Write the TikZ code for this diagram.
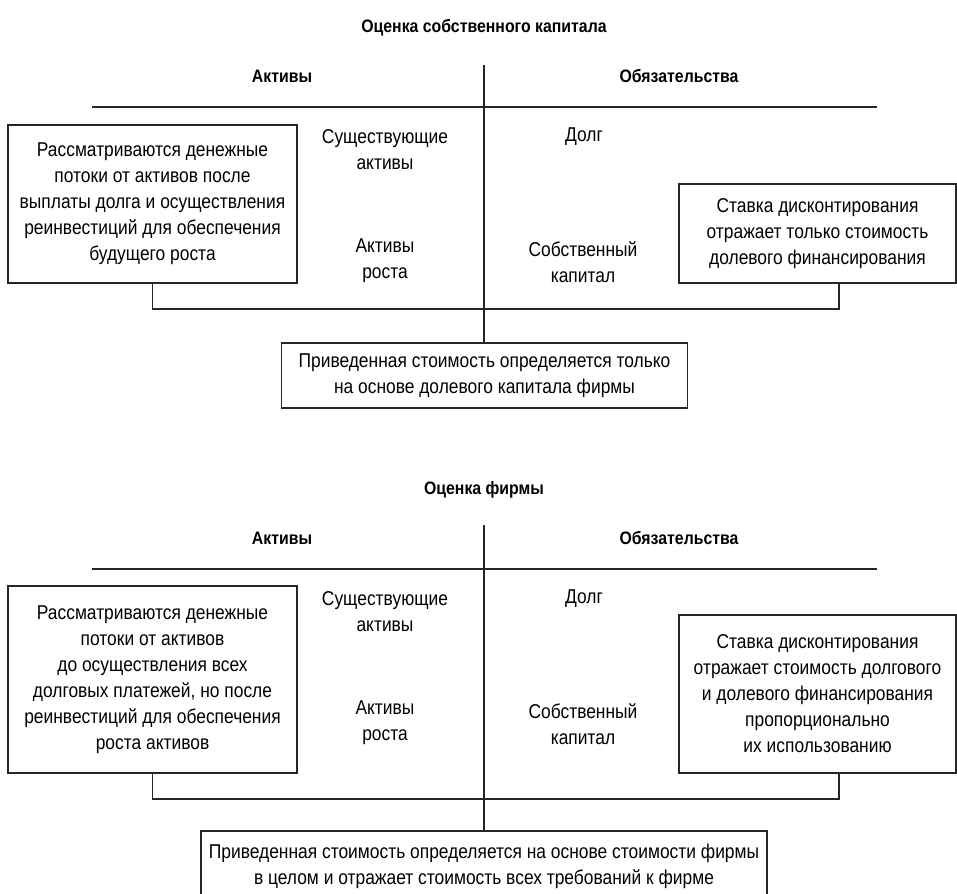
\documentclass[tikz,border=0pt]{standalone}
\usepackage{fontspec}
\setmainfont{Liberation Sans}[FakeStretch=0.87]
\newfontfamily\headfont{Liberation Sans}[FakeStretch=0.88]
\usetikzlibrary{positioning}

\tikzset{
  lbl/.style={align=center, inner sep=0pt, font=\fontsize{20}{26}\selectfont},
  head/.style={inner sep=0pt, font=\headfont\bfseries\fontsize{18}{22}\selectfont},
  card/.style={lbl, draw, inner sep=4pt}
}

\begin{document}
\begin{tikzpicture}[x=1pt, y=-1pt, line width=1.2pt, draw=black!85]
  \clip (0,0) rectangle (957,893);
  \foreach \dy [count=\i] in {0, 462} {
    \node[head] (h\i) at (282, 76+\dy) {Активы};
    \node[head] (o\i) at (679, 76+\dy) {Обязательства};
    \node[lbl] (s\i) at (385, 150+\dy) {Существующие\\активы};
    \node[lbl] (g\i) at (385, 261+\dy) {Активы\\роста};
    \node[lbl] (d\i) at (584, 137+\dy) {Долг};
    \node[lbl] (e\i) at (583, 262+\dy) {Собственный\\капитал};
    \draw (92, 107+\dy) -- (877, 107+\dy);
  }

  \node[head] (t1) at (484, 28) {Оценка собственного капитала};
  \node[card, minimum width=289pt, minimum height=158pt] (a1) at (152.5, 204)
    {Рассматриваются денежные\\потоки от активов после\\выплаты долга и осуществления\\реинвестиций для обеспечения\\будущего роста};
  \node[card, minimum width=277pt, minimum height=99pt] (r1) at (817.5, 233.5)
    {Ставка дисконтирования\\отражает только стоимость\\долевого финансирования};
  \node[card, minimum width=406pt, minimum height=65pt] (b1) at (484.5, 375.5)
    {Приведенная стоимость определяется только\\на основе долевого капитала фирмы};
  \coordinate (v1) at (484, 65);
  \coordinate (j1) at (484, 309);
  \draw (v1) -- (v1 |- b1.north);
  \draw (a1.south) |- (j1) -| ([xshift=21.5pt]r1.south);

  \node[head] (t2) at (484, 490) {Оценка фирмы};
  \node[card, minimum width=289pt, minimum height=187pt] (a2) at (152.5, 679.5)
    {Рассматриваются денежные\\потоки от активов\\до осуществления всех\\долговых платежей, но после\\реинвестиций для обеспечения\\роста активов};
  \node[card, minimum width=277pt, minimum height=158pt] (r2) at (817.5, 694)
    {Ставка дисконтирования\\отражает стоимость долгового\\и долевого финансирования\\пропорционально\\их использованию};
  \node[card, minimum width=566pt, minimum height=70pt] (b2) at (484, 866)
    {Приведенная стоимость определяется на основе стоимости фирмы\\в целом и отражает стоимость всех требований к фирме};
  \coordinate (v2) at (484, 525);
  \coordinate (j2) at (484, 799);
  \draw (v2) -- (v2 |- b2.north);
  \draw (a2.south) |- (j2) -| ([xshift=21.5pt]r2.south);
\end{tikzpicture}
\end{document}
